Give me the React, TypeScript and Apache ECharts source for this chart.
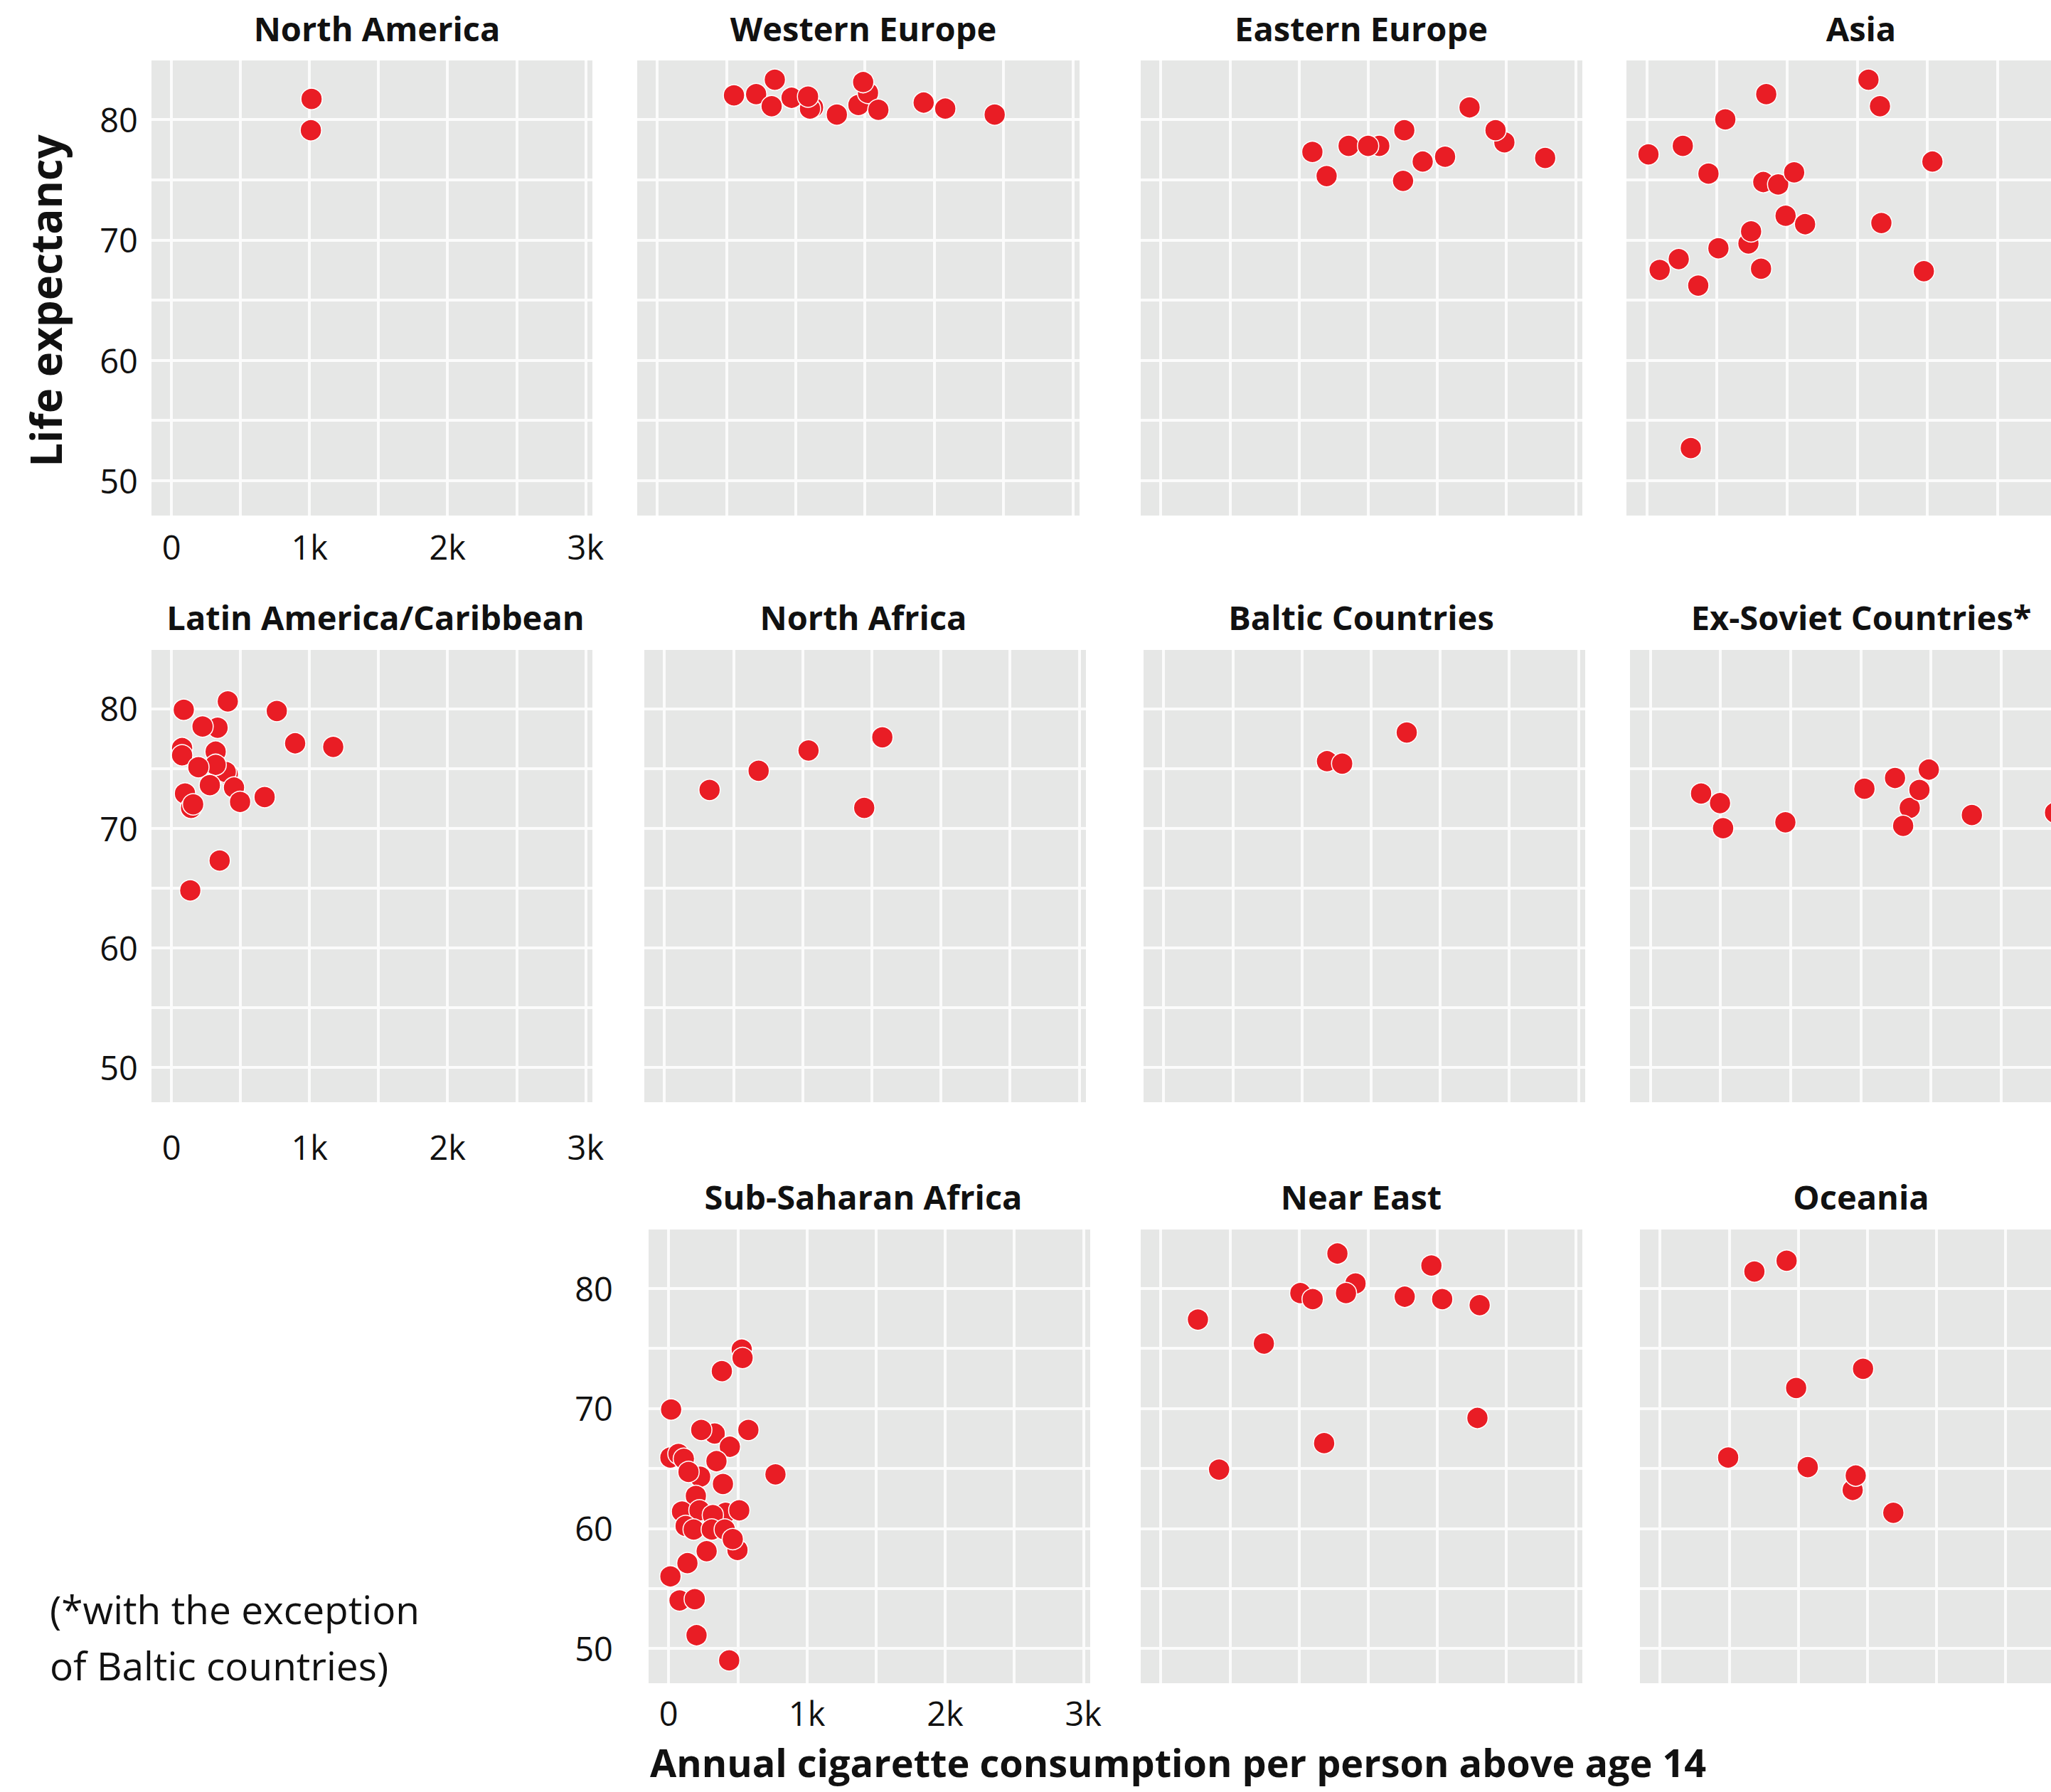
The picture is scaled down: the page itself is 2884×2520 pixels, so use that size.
import React, { useEffect, useRef } from "react";
import * as echarts from "echarts";

// ---- axis values ----
const xLabelValues = [0, 1000, 2000, 3000];
const xLabelTexts = ["0", "1k", "2k", "3k"];
const xGridValues = [0, 500, 1000, 1500, 2000, 2500, 3000];
const yLabelValues = [50, 60, 70, 80];
const yGridValues = [50, 55, 60, 65, 70, 75, 80];
const X_MIN = -145;
const X_MAX = 3050;
const Y_MIN = 47.1;
const Y_MAX = 84.9;

// ---- data: [cigarettes per person, life expectancy] ----
const northAmerica = [[1015, 81.7], [1010, 79.1]];
const westernEurope = [
  [554, 82.0], [714, 82.1], [849, 83.3], [826, 81.1], [970, 81.8], [1125, 81.0], [1103, 80.9],
  [1089, 81.9], [1297, 80.4], [1453, 81.2], [1522, 82.2], [1487, 83.1], [1597, 80.8],
  [1924, 81.4], [2080, 80.9], [2437, 80.4],
];
const easternEurope = [
  [1097, 77.3], [1200, 75.3], [1359, 77.8], [1581, 77.8], [1500, 77.8], [1762, 79.1],
  [1753, 74.9], [1895, 76.5], [2057, 76.9], [2234, 81.0], [2486, 78.1], [2422, 79.1], [2781, 76.8],
];
const asia = [
  [12, 77.1], [257, 77.8], [560, 80.0], [852, 82.1], [1581, 83.3], [1663, 81.1], [440, 75.5],
  [831, 74.8], [937, 74.6], [1051, 75.6], [2037, 76.5], [990, 72.0], [1129, 71.3], [1673, 71.4],
  [725, 69.7], [744, 70.7], [511, 69.3], [228, 68.4], [92, 67.5], [815, 67.6], [1976, 67.4],
  [367, 66.2], [314, 52.7],
];
const latinAmerica = [
  [89, 79.9], [408, 80.6], [763, 79.8], [334, 78.4], [225, 78.5], [896, 77.1], [1172, 76.8],
  [77, 76.7], [77, 76.1], [320, 76.4], [408, 74.5], [393, 74.7], [320, 75.3], [195, 75.1],
  [453, 73.4], [278, 73.6], [98, 72.9], [497, 72.2], [675, 72.6], [142, 71.7], [157, 72.0],
  [349, 67.3], [136, 64.8],
];
const northAfrica = [[327, 73.2], [682, 74.8], [1043, 76.5], [1577, 77.6], [1446, 71.7]];
const balticCountries = [[1182, 75.6], [1292, 75.4], [1759, 78.0]];
const exSoviet = [
  [362, 72.9], [497, 72.1], [519, 70.0], [963, 70.5], [1527, 73.3], [1745, 74.2], [1986, 74.9],
  [1850, 71.7], [1919, 73.2], [1803, 70.2], [2293, 71.1], [2886, 71.3],
];
const subSaharanAfrica = [
  [529, 74.9], [535, 74.2], [385, 73.1], [18, 69.9], [333, 67.9], [236, 68.2], [577, 68.2],
  [443, 66.8], [13, 65.9], [71, 66.2], [110, 65.8], [346, 65.6], [228, 64.3], [144, 64.7],
  [773, 64.5], [393, 63.7], [197, 62.7], [97, 61.4], [223, 61.5], [412, 61.3], [511, 61.5],
  [320, 61.1], [123, 60.2], [181, 59.9], [312, 59.9], [406, 59.9], [498, 58.2], [464, 59.1],
  [275, 58.1], [136, 57.1], [13, 56.0], [79, 54.0], [189, 54.1], [202, 51.1], [438, 49.0],
];
const nearEast = [
  [1278, 82.9], [1958, 81.9], [1409, 80.4], [1340, 79.6], [1010, 79.6], [1099, 79.1],
  [1765, 79.3], [2036, 79.1], [2307, 78.6], [269, 77.4], [746, 75.4], [2291, 69.2],
  [1182, 67.1], [422, 64.9],
];
const oceania = [
  [683, 81.4], [916, 82.3], [1469, 73.3], [985, 71.7], [493, 65.9], [1069, 65.1],
  [1394, 63.2], [1416, 64.4], [1688, 61.3],
];

const regionNames = [
  "North America", "Western Europe", "Eastern Europe", "Asia",
  "Latin America/Caribbean", "North Africa", "Baltic Countries", "Ex-Soviet Countries*",
  "Sub-Saharan Africa", "Near East", "Oceania",
];
const regionData = [
  northAmerica, westernEurope, easternEurope, asia,
  latinAmerica, northAfrica, balticCountries, exSoviet,
  subSaharanAfrica, nearEast, oceania,
];

// ---- layout (pixels) ----
const panelLayout = [
  { left: 213, top: 85, width: 620, height: 640, tx: 530, ty: 40, showX: true, showY: true, xm: 20, ym: 19, yPad: 0 },
  { left: 896, top: 85, width: 622, height: 640, tx: 1214, ty: 40 },
  { left: 1604, top: 85, width: 621, height: 640, tx: 1914, ty: 40 },
  { left: 2287, top: 85, width: 630, height: 640, tx: 2617, ty: 40 },
  { left: 213, top: 914, width: 620, height: 636, tx: 528, ty: 868, showX: true, showY: true, xm: 39, ym: 19, yPad: 18 },
  { left: 906, top: 914, width: 621, height: 636, tx: 1214, ty: 868 },
  { left: 1608, top: 914, width: 621, height: 636, tx: 1914, ty: 868 },
  { left: 2292, top: 914, width: 630, height: 636, tx: 2617, ty: 868 },
  { left: 912, top: 1729, width: 621, height: 638, tx: 1214, ty: 1683, showX: true, showY: true, xm: 18, ym: 50, yPad: 0 },
  { left: 1604, top: 1729, width: 621, height: 638, tx: 1914, ty: 1683 },
  { left: 2306, top: 1729, width: 621, height: 638, tx: 2617, ty: 1683 },
];

const FONT = '"Open Sans", "Noto Sans", "DejaVu Sans", sans-serif';
const RED = "#e91d25";
const PANEL_BG = "#e6e7e6";
const GRID_LINE = "#fbfbfb";
const INK = "#111111";

export default function App() {
  const ref = useRef<HTMLDivElement>(null);

  useEffect(() => {
    if (!ref.current) return;
    const chart = echarts.init(ref.current, null, { renderer: "svg" });

    const grid: any[] = [];
    const xAxis: any[] = [];
    const yAxis: any[] = [];
    const series: any[] = [];
    const graphic: any[] = [];

    panelLayout.forEach((p: any, i) => {
      grid.push({
        left: p.left, top: p.top, width: p.width, height: p.height,
        show: true, backgroundColor: PANEL_BG, borderWidth: 0,
        containLabel: false, outerBoundsMode: "none",
      });
      xAxis.push({
        gridIndex: i, type: "value", min: X_MIN, max: X_MAX,
        axisLine: { show: false },
        axisTick: { show: false, customValues: xGridValues },
        splitLine: { show: true, lineStyle: { color: GRID_LINE, width: 4 } },
        axisLabel: {
          show: !!p.showX, customValues: xLabelValues, margin: p.xm || 20,
          formatter: (v: number) => {
            const k = xLabelValues.indexOf(v);
            return k >= 0 ? xLabelTexts[k] : "";
          },
          color: INK, fontSize: 47, fontFamily: FONT,
        },
      });
      yAxis.push({
        gridIndex: i, type: "value", min: Y_MIN, max: Y_MAX,
        axisLine: { show: false },
        axisTick: { show: false, customValues: yGridValues },
        splitLine: { show: true, lineStyle: { color: GRID_LINE, width: 4 } },
        axisLabel: {
          show: !!p.showY, customValues: yLabelValues, margin: p.ym || 19,
          color: INK, fontSize: 47, fontFamily: FONT,
          padding: [0, 0, p.yPad || 0, 0],
        },
      });
      series.push({
        type: "scatter", name: regionNames[i], xAxisIndex: i, yAxisIndex: i,
        data: regionData[i], symbol: "circle", symbolSize: 30, silent: true, z: 3,
        itemStyle: { color: RED, borderColor: "#ffffff", borderWidth: 1.5, opacity: 1 },
      });
      graphic.push({
        type: "text", x: p.tx, y: p.ty, silent: true,
        style: {
          text: regionNames[i], fill: INK, fontSize: 47, fontWeight: "bold", fontFamily: FONT,
          align: "center", verticalAlign: "middle",
        },
      });
    });

    graphic.push({
      type: "text", x: 64, y: 423, rotation: Math.PI / 2, silent: true,
      style: {
        text: "Life expectancy", fill: INK, fontSize: 60, fontWeight: "bold", fontFamily: FONT,
        align: "center", verticalAlign: "middle",
      },
    });
    graphic.push({
      type: "text", x: 914, y: 2478, silent: true,
      style: {
        text: "Annual cigarette consumption per person above age 14", fill: INK,
        fontSize: 54, fontWeight: "bold", fontFamily: FONT, align: "left", verticalAlign: "middle",
      },
    });
    graphic.push({
      type: "text", x: 70, y: 2262, silent: true,
      style: {
        text: "(*with the exception", fill: INK, fontSize: 55, fontFamily: FONT,
        align: "left", verticalAlign: "middle",
      },
    });
    graphic.push({
      type: "text", x: 70, y: 2341, silent: true,
      style: {
        text: "of Baltic countries)", fill: INK, fontSize: 55, fontFamily: FONT,
        align: "left", verticalAlign: "middle",
      },
    });

    chart.setOption({
      animation: false,
      backgroundColor: "#ffffff",
      grid, xAxis, yAxis, series, graphic,
    });

    return () => chart.dispose();
  }, []);

  return (
    <div
      ref={ref}
      style={{ position: "fixed", left: 0, top: 0, width: 2884, height: 2520, background: "#fff" }}
    />
  );
}
